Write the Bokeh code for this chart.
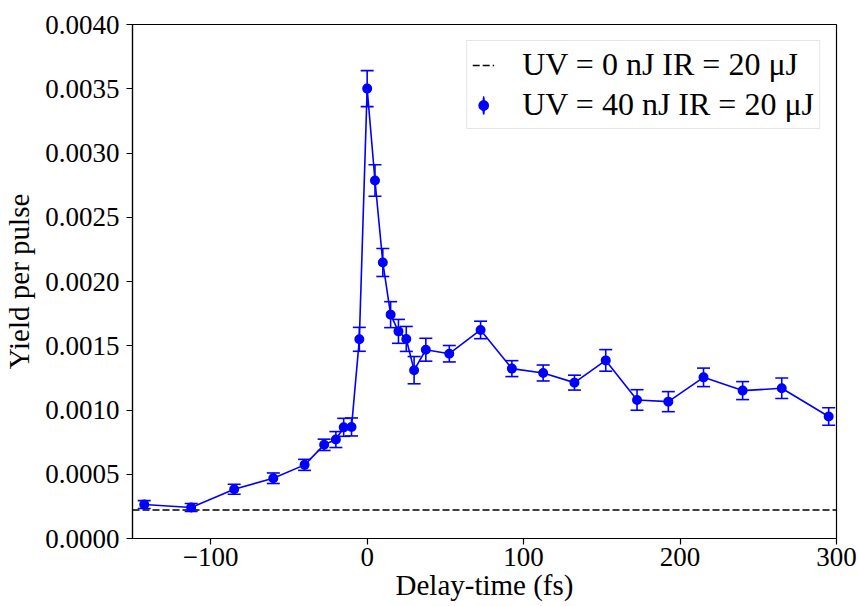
from bokeh.plotting import figure
from bokeh.models import (ColumnDataSource, Whisker, TeeHead, Legend, LegendItem,
                          Range1d, FixedTicker, PrintfTickFormatter, CustomJSTickFormatter)
from bokeh.embed import file_html
from bokeh.resources import INLINE

# ---- data ----
delay_fs = [-142.5, -112.5, -85, -60, -40, -27.5, -20, -15, -10, -5, 0, 5, 10, 15, 20,
            25, 30, 37.5, 52.5, 72.5, 92.5, 112.5, 132.5, 152.5, 172.5, 192.5, 215,
            240, 265, 295]
yield_uv40 = [0.000264, 0.000241, 0.000383, 0.000469, 0.000573, 0.000729, 0.000770,
              0.000865, 0.000868, 0.001550, 0.003501, 0.002786, 0.002148, 0.001742,
              0.001612, 0.001553, 0.001310, 0.001469, 0.001438, 0.001623, 0.001322,
              0.001288, 0.001213, 0.001386, 0.001078, 0.001065, 0.001254, 0.001151,
              0.001169, 0.000949]
yield_err = [0.000031, 0.000031, 0.000039, 0.000041, 0.000043, 0.000044, 0.000062,
             0.000070, 0.000070, 0.000093, 0.000140, 0.000122, 0.000109, 0.000101,
             0.000093, 0.000097, 0.000106, 0.000089, 0.000064, 0.000068, 0.000062,
             0.000062, 0.000058, 0.000084, 0.000080, 0.000078, 0.000072, 0.000070,
             0.000080, 0.000068]
baseline_uv0 = 0.000222
x_limits = [-150, 300]
y_limits = [0.0, 0.004]
x_ticks = [-100, 0, 100, 200, 300]
y_ticks = [0.0, 0.0005, 0.0010, 0.0015, 0.0020, 0.0025, 0.0030, 0.0035, 0.0040]
label_uv0 = "UV = 0 nJ IR = 20 μJ"
label_uv40 = "UV = 40 nJ IR = 20 μJ"
x_label = "Delay-time (fs)"
y_label = "Yield per pulse"

FONT = "Liberation Serif"
BLUE = "#0000ff"

p = figure(width=858, height=606, output_backend="svg", toolbar_location=None,
           x_range=Range1d(*x_limits), y_range=Range1d(*y_limits),
           min_border_left=132, min_border_right=22, min_border_top=24, min_border_bottom=68)
p.grid.visible = False
p.background_fill_color = "white"
p.border_fill_color = "white"
p.outline_line_color = "black"
p.outline_line_alpha = 1
p.outline_line_width = 1.2

for ax in (p.xaxis[0], p.yaxis[0]):
    ax.axis_line_color = "black"
    ax.axis_line_width = 1.2
    ax.major_tick_line_color = "black"
    ax.major_tick_line_width = 1.2
    ax.major_tick_out = 6
    ax.major_tick_in = 0
    ax.minor_tick_out = 0
    ax.minor_tick_in = 0
    ax.major_label_text_font = FONT
    ax.major_label_text_font_size = "27px"
    ax.major_label_text_color = "black"
    ax.axis_label_text_font = FONT
    ax.axis_label_text_font_size = "29px"
    ax.axis_label_text_font_style = "normal"
    ax.axis_label_text_color = "black"

p.xaxis.major_label_standoff = 3
p.xaxis.axis_label_standoff = 0
p.yaxis.major_label_standoff = 7
p.yaxis.axis_label_standoff = 7

p.xaxis.ticker = FixedTicker(ticks=x_ticks)
p.yaxis.ticker = FixedTicker(ticks=y_ticks)
p.yaxis.formatter = PrintfTickFormatter(format="%.4f")
p.xaxis.formatter = CustomJSTickFormatter(
    code="return tick < 0 ? '\u2212' + Math.abs(tick).toString() : tick.toString();")
p.xaxis.axis_label = x_label
p.yaxis.axis_label = y_label

# baseline (UV = 0 nJ)
base_r = p.line(x=x_limits, y=[baseline_uv0, baseline_uv0], line_color="black",
                line_width=1.6, line_dash="7 3")

src = ColumnDataSource(dict(
    x=delay_fs, y=yield_uv40,
    upper=[v + e for v, e in zip(yield_uv40, yield_err)],
    lower=[v - e for v, e in zip(yield_uv40, yield_err)],
    ew=[0.5] * len(delay_fs), eh=[8] * len(delay_fs),
))

whisk = Whisker(base="x", upper="upper", lower="lower", source=src,
                line_color=BLUE, line_width=1.6, level="glyph",
                upper_head=TeeHead(size=13, line_color=BLUE, line_width=1.6),
                lower_head=TeeHead(size=13, line_color=BLUE, line_width=1.6))
p.add_layout(whisk)

p.line(x="x", y="y", source=src, line_color=BLUE, line_width=1.6)
# thin vertical ellipse, hidden under the markers: gives the legend its error-bar stroke
ell_r = p.ellipse(x="x", y="y", width="ew", height="eh", width_units="screen",
                  height_units="screen", source=src, fill_color=None,
                  line_color=BLUE, line_width=1.6)
sc_r = p.scatter(x="x", y="y", source=src, size=8, fill_color=BLUE,
                 line_color=BLUE, line_width=2)

legend = Legend(items=[LegendItem(label=label_uv0, renderers=[base_r]),
                       LegendItem(label=label_uv40, renderers=[ell_r, sc_r], index=0)],
                location="top_right")
legend.label_text_font = FONT
legend.label_text_font_size = "32px"
legend.label_text_color = "black"
legend.glyph_width = 22
legend.glyph_height = 30
legend.label_height = 30
legend.label_standoff = 28
legend.spacing = 3
legend.padding = 5
legend.margin = 16
legend.border_line_color = "#cccccc"
legend.border_line_width = 1.2
legend.background_fill_alpha = 0.8
p.add_layout(legend)

open("out.html", "w").write(file_html(p, INLINE))
